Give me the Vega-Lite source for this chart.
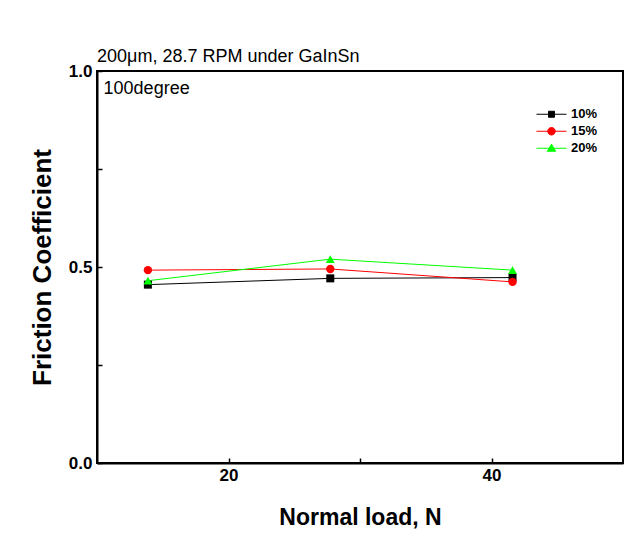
{
  "$schema": "https://vega.github.io/schema/vega-lite/v6.json",
  "width": 526,
  "height": 392,
  "autosize": "none",
  "padding": {"left": 97, "top": 71, "right": 15, "bottom": 83},
  "background": "white",
  "config": {
    "font": "Liberation Sans",
    "view": {"stroke": "black", "strokeWidth": 2},
    "axis": {"grid": false, "domainColor": "black", "domainWidth": 2, "tickColor": "black", "tickWidth": 1.5, "labelColor": "black", "titleColor": "black"}
  },
  "title": {"text": "200μm, 28.7 RPM under GaInSn", "anchor": "start", "frame": "group", "fontSize": 18, "fontWeight": "normal", "font": "Liberation Sans", "color": "black", "offset": 4, "dy": 8},
  "data": {
    "values": [
      {"load": 13.87, "cof": 0.455, "series": "10%"},
      {"load": 27.74, "cof": 0.471, "series": "10%"},
      {"load": 41.6, "cof": 0.473, "series": "10%"},
      {"load": 13.87, "cof": 0.492, "series": "15%"},
      {"load": 27.74, "cof": 0.495, "series": "15%"},
      {"load": 41.6, "cof": 0.462, "series": "15%"},
      {"load": 13.87, "cof": 0.465, "series": "20%"},
      {"load": 27.74, "cof": 0.52, "series": "20%"},
      {"load": 41.6, "cof": 0.492, "series": "20%"}
    ]
  },
  "layer": [
    {
      "mark": {"type": "line", "strokeWidth": 1},
      "encoding": {
        "x": {"field": "load", "type": "quantitative", "scale": {"domain": [10, 50], "nice": false, "zero": false},
          "axis": {"values": [20, 30, 40], "labelExpr": "datum.value === 30 ? '' : datum.label", "tickSize": -5, "labelFontSize": 17, "labelFontWeight": "bold", "labelPadding": 9, "title": "Normal load, N", "titleFontSize": 23, "titleFontWeight": "bold", "titlePadding": 23}},
        "y": {"field": "cof", "type": "quantitative", "scale": {"domain": [0, 1], "nice": false},
          "axis": {"values": [0, 0.25, 0.5, 0.75, 1], "labelExpr": "(datum.value === 0 || datum.value === 0.5 || datum.value === 1) ? format(datum.value, '.1f') : ''", "tickSize": -5, "labelFontSize": 17, "labelFontWeight": "bold", "labelPadding": 10, "title": "Friction Coefficient", "titleFontSize": 26, "titleFontWeight": "bold", "titlePadding": 13}},
        "color": {"field": "series", "type": "nominal", "scale": {"domain": ["10%", "15%", "20%"], "range": ["#000000", "#ff0000", "#00ff00"]},
          "legend": {"title": null, "orient": "none", "legendX": 439, "legendY": 35, "symbolSize": 900, "clipHeight": 16.5, "rowPadding": 0, "labelFontSize": 13, "labelFontWeight": "bold", "labelColor": "black", "labelOffset": 4, "symbolStrokeWidth": 1,
            "encode": {"symbols": {"update": {
              "shape": {"signal": "datum.value === '10%' ? 'M-1,0H1M-0.2,-0.2H0.2V0.2H-0.2Z' : datum.value === '15%' ? 'M-1,0H1M0.25,0A0.25,0.25,0,1,1,-0.25,0A0.25,0.25,0,1,1,0.25,0Z' : 'M-1,0H1M0,-0.27L0.28,0.2H-0.28Z'"},
              "fill": {"signal": "datum.value === '10%' ? '#000000' : datum.value === '15%' ? '#ff0000' : '#00ff00'"},
              "stroke": {"signal": "datum.value === '10%' ? '#000000' : datum.value === '15%' ? '#ff0000' : '#00ff00'"},
              "size": {"value": 900},
              "strokeWidth": {"value": 1},
              "opacity": {"value": 1}
            }}}}}
      }
    },
    {
      "transform": [{"filter": "datum.series === '10%'"}],
      "mark": {"type": "point", "filled": true, "opacity": 1, "size": 64, "shape": "square", "color": "#000000"},
      "encoding": {"x": {"field": "load", "type": "quantitative"}, "y": {"field": "cof", "type": "quantitative"}}
    },
    {
      "transform": [{"filter": "datum.series === '15%'"}],
      "mark": {"type": "point", "filled": true, "opacity": 1, "size": 70, "shape": "circle", "color": "#ff0000"},
      "encoding": {"x": {"field": "load", "type": "quantitative"}, "y": {"field": "cof", "type": "quantitative"}}
    },
    {
      "transform": [{"filter": "datum.series === '20%'"}],
      "mark": {"type": "point", "filled": true, "opacity": 1, "size": 80, "shape": "triangle-up", "color": "#00ff00"},
      "encoding": {"x": {"field": "load", "type": "quantitative"}, "y": {"field": "cof", "type": "quantitative"}}
    },
    {
      "data": {"values": [{}]},
      "mark": {"type": "text", "text": "100degree", "align": "left", "baseline": "middle", "fontSize": 18, "font": "Liberation Sans", "color": "black"},
      "encoding": {"x": {"datum": 10.5}, "y": {"datum": 0.955}}
    }
  ]
}
